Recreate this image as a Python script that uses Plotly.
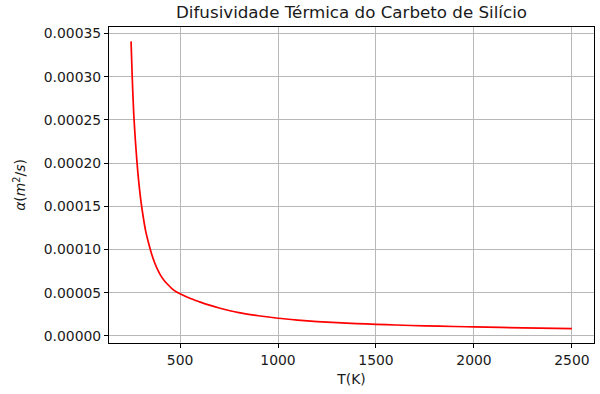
import plotly.graph_objects as go

# Temperatura (K) e difusividade térmica (m²/s) do carbeto de silício
temperatura = [250, 256, 265, 280, 290, 300, 312, 325, 340, 355, 370, 385,
               400, 420, 440, 460, 480, 500, 550, 600, 650, 700, 800, 900,
               1000, 1100, 1200, 1300, 1400, 1500, 1600, 1750, 1900, 2000,
               2250, 2500]
difusividade = [3.41e-4, 3.00e-4, 2.52e-4, 2.02e-4, 1.77e-4, 1.57e-4, 1.38e-4,
                1.21e-4, 1.07e-4, 9.5e-5, 8.5e-5, 7.7e-5, 7.05e-5, 6.4e-5,
                5.9e-5, 5.45e-5, 5.12e-5, 4.88e-5, 4.36e-5, 3.95e-5, 3.57e-5,
                3.24e-5, 2.70e-5, 2.34e-5, 2.05e-5, 1.84e-5, 1.67e-5, 1.54e-5,
                1.44e-5, 1.35e-5, 1.27e-5, 1.17e-5, 1.095e-5, 1.05e-5, 9.4e-6,
                8.5e-6]

x_ticks = [500, 1000, 1500, 2000, 2500]
y_ticks = [0.0, 0.00005, 0.0001, 0.00015, 0.0002, 0.00025, 0.0003, 0.00035]

titulo = "Difusividade Térmica do Carbeto de Silício"
rotulo_x = "T(K)"
rotulo_y = "<i>α</i>(<i>m</i><sup>2</sup>/<i>s</i>)"


def com_margem(valores, frac=0.05):
    lo, hi = min(valores), max(valores)
    pad = (hi - lo) * frac
    return [lo - pad, hi + pad]


FONT = "DejaVu Sans"
TXT = "#1a1a1a"

fig = go.Figure(
    go.Scatter(
        x=temperatura,
        y=difusividade,
        mode="lines",
        line=dict(color="red", width=1.7, shape="spline", smoothing=0.8),
        hoverinfo="x+y",
    )
)

eixo_comum = dict(
    showline=True,
    mirror=True,
    linecolor="#000000",
    linewidth=1,
    ticks="outside",
    ticklen=4,
    tickwidth=1,
    tickcolor="#000000",
    showgrid=True,
    gridcolor="#b8b8b8",
    gridwidth=0.9,
    zeroline=False,
    tickfont=dict(family=FONT, size=13.9, color=TXT),
)

fig.update_xaxes(
    **eixo_comum,
    range=com_margem(temperatura),
    tickvals=x_ticks,
    ticktext=[str(v) for v in x_ticks],
    title=dict(text=rotulo_x, font=dict(family=FONT, size=13.9, color=TXT), standoff=7),
)
fig.update_yaxes(
    **eixo_comum,
    range=com_margem(difusividade),
    tickvals=y_ticks,
    ticktext=[f"{v:.5f}" for v in y_ticks],
    title=dict(text=rotulo_y, font=dict(family=FONT, size=13.9, color=TXT), standoff=14),
)

fig.update_layout(
    width=600,
    height=394,
    margin=dict(l=109, r=6, t=27, b=51, autoexpand=False),
    paper_bgcolor="white",
    plot_bgcolor="white",
    showlegend=False,
    title=dict(
        text=titulo,
        font=dict(family=FONT, size=16.7, color=TXT),
        x=0.5,
        xref="paper",
        xanchor="center",
        y=1 - 17.5 / 394,
        yref="container",
        yanchor="bottom",
    ),
)

fig.write_html("out.html")
